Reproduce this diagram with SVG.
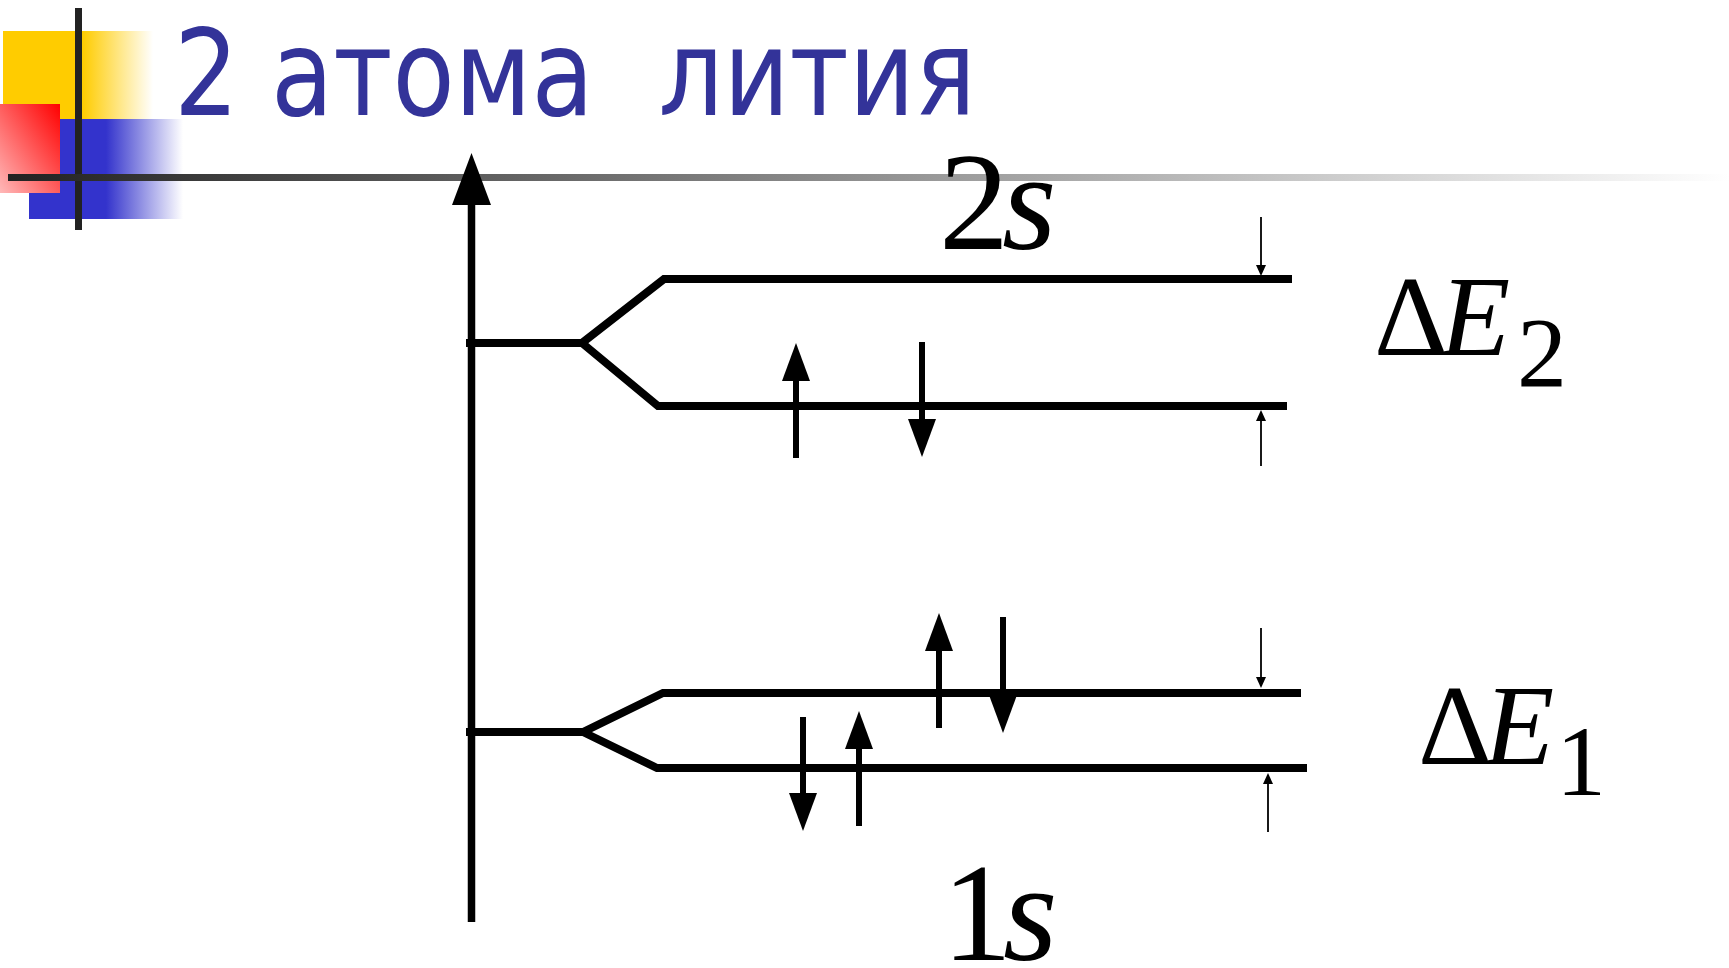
<svg xmlns="http://www.w3.org/2000/svg" width="1729" height="968" viewBox="0 0 1729 968">
  <style>
    .lvl { fill: none; stroke: #000; stroke-width: 8; stroke-linejoin: miter; stroke-miterlimit: 3; }
    .el { stroke: #000; stroke-width: 6; fill: none; }
    .dim { stroke: #000; stroke-width: 1.8; fill: none; }
    .math { fill: #000; }
    .title { font-family: "DejaVu Sans", Verdana, sans-serif; fill: #333399; }
  </style>
  <defs>
    <linearGradient id="gYellow" x1="0" y1="0" x2="1" y2="0">
      <stop offset="0" stop-color="#ffcc00"/>
      <stop offset="0.53" stop-color="#ffcc00"/>
      <stop offset="1" stop-color="#ffffff"/>
    </linearGradient>
    <linearGradient id="gBlue" x1="0" y1="0" x2="1" y2="0">
      <stop offset="0" stop-color="#3333cc"/>
      <stop offset="0.5" stop-color="#3333cc"/>
      <stop offset="1" stop-color="#ffffff"/>
    </linearGradient>
    <linearGradient id="gRed" x1="1" y1="0" x2="0" y2="1">
      <stop offset="0" stop-color="#ff0000"/>
      <stop offset="1" stop-color="#ffb8b8"/>
    </linearGradient>
    <linearGradient id="gLine" gradientUnits="userSpaceOnUse" x1="8" y1="0" x2="1729" y2="0">
      <stop offset="0" stop-color="#222222"/>
      <stop offset="1" stop-color="#ffffff"/>
    </linearGradient>
    <marker id="head" markerUnits="userSpaceOnUse" viewBox="0 0 38 28" refX="0" refY="14" markerWidth="38" markerHeight="28" orient="auto">
      <path d="M0,0 L38,14 L0,28 Z" fill="#000"/>
    </marker>
    <marker id="headAxis" markerUnits="userSpaceOnUse" viewBox="0 0 52 39" refX="0" refY="19.5" markerWidth="52" markerHeight="39" orient="auto">
      <path d="M0,0 L52,19.5 L0,39 Z" fill="#000"/>
    </marker>
    <marker id="headSmall" markerUnits="userSpaceOnUse" viewBox="0 0 11 10" refX="0" refY="5" markerWidth="11" markerHeight="10" orient="auto">
      <path d="M0,0 L11,5 L0,10 Z" fill="#000"/>
    </marker>
  </defs>

  <rect width="1729" height="968" fill="#ffffff"/>

  <g id="decor">
    <rect x="3" y="31" width="150" height="88" fill="url(#gYellow)"/>
    <rect x="29" y="119" width="154" height="100" fill="url(#gBlue)"/>
    <rect x="0" y="104" width="60" height="89" fill="url(#gRed)"/>
    <rect x="75" y="8" width="7" height="222" fill="#222222"/>
    <rect x="8" y="174" width="1721" height="7" fill="url(#gLine)"/>
  </g>

  <g id="title">
    <text class="title" x="174" y="115" font-size="120" textLength="802" lengthAdjust="spacingAndGlyphs" xml:space="preserve">2 атома  лития</text>
  </g>

  <g id="axis">
    <line x1="471.5" y1="922" x2="471.5" y2="205" stroke="#000" stroke-width="7.5" marker-end="url(#headAxis)"/>
  </g>

  <g id="connectors">
    <g id="level-2s">
      <path class="lvl" d="M466,343 L582,343 L664,279 L1292,279"/>
      <path class="lvl" d="M582,343 L658,406 L1287,406"/>
    </g>
    <g id="level-1s">
      <path class="lvl" d="M466,732 L583,732 L663,693 L1301,693"/>
      <path class="lvl" d="M583,732 L657,768 L1307,768"/>
    </g>
    <g id="electrons">
      <line class="el" x1="796" y1="458" x2="796" y2="381" marker-end="url(#head)"/>
      <line class="el" x1="922" y1="342" x2="922" y2="419" marker-end="url(#head)"/>
      <line class="el" x1="939" y1="728" x2="939" y2="651" marker-end="url(#head)"/>
      <line class="el" x1="1003" y1="617" x2="1003" y2="695" marker-end="url(#head)"/>
      <line class="el" x1="803" y1="717" x2="803" y2="793" marker-end="url(#head)"/>
      <line class="el" x1="859" y1="826" x2="859" y2="749" marker-end="url(#head)"/>
    </g>
    <g id="dimension-arrows">
      <line class="dim" x1="1261" y1="217" x2="1261" y2="265" marker-end="url(#headSmall)"/>
      <line class="dim" x1="1261" y1="466" x2="1261" y2="421" marker-end="url(#headSmall)"/>
      <line class="dim" x1="1261" y1="628" x2="1261" y2="677" marker-end="url(#headSmall)"/>
      <line class="dim" x1="1268" y1="832" x2="1268" y2="784" marker-end="url(#headSmall)"/>
    </g>
  </g>

  <g id="label-2s">
    <text class="math" font-family="Times New Roman, Liberation Serif, serif" font-size="140" y="249"><tspan x="939">2</tspan><tspan font-style="italic" x="1002">s</tspan></text>
  </g>
  <g id="label-1s">
    <text class="math" font-family="Times New Roman, Liberation Serif, serif" font-size="140" y="960"><tspan x="942">1</tspan><tspan font-style="italic" x="1003">s</tspan></text>
  </g>
  <g id="label-dE2">
    <text class="math" font-family="Times New Roman, Liberation Serif, serif" font-size="115" y="355"><tspan x="1374">Δ</tspan><tspan font-style="italic" x="1440">E</tspan></text>
    <text class="math" font-family="Times New Roman, Liberation Serif, serif" font-size="100" x="1517" y="386">2</text>
  </g>
  <g id="label-dE1">
    <text class="math" font-family="Times New Roman, Liberation Serif, serif" font-size="115" y="764"><tspan x="1418">Δ</tspan><tspan font-style="italic" x="1484">E</tspan></text>
    <text class="math" font-family="Times New Roman, Liberation Serif, serif" font-size="100" x="1556" y="795">1</text>
  </g>
</svg>
